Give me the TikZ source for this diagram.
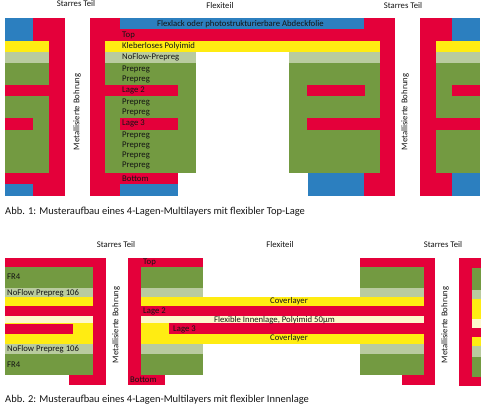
\documentclass[tikz,border=0pt]{standalone}
\usepackage{xcolor}
\usepackage{fontspec}
\setmainfont{Carlito}
\usetikzlibrary{positioning}
\definecolor{pcbred}{HTML}{E4003A}
\definecolor{pcbgreen}{HTML}{739A41}
\definecolor{pcbpale}{HTML}{B9CB9F}
\definecolor{pcbyellow}{HTML}{FFEC12}
\definecolor{pcbblue}{HTML}{2C7FBF}
\definecolor{pcbcream}{HTML}{FDF8CC}
\definecolor{pcbtext}{HTML}{141414}
\tikzstyle{copper} = [fill=pcbred]
\tikzstyle{prepreg} = [fill=pcbgreen]
\tikzstyle{noflow} = [fill=pcbpale]
\tikzstyle{polyimid} = [fill=pcbyellow]
\tikzstyle{flexcore} = [fill=pcbcream]
\tikzstyle{flexlack} = [fill=pcbblue]
\tikzstyle{layertext} = [anchor=west, inner sep=0pt, text=pcbtext, font=\fontsize{8.7}{10}\selectfont]
\tikzstyle{parttext} = [inner sep=0pt, text=pcbtext, font=\fontsize{8.7}{10}\selectfont]
\tikzstyle{viatext} = [parttext, rotate=90]
\tikzstyle{captext} = [anchor=west, inner sep=0pt, text=pcbtext, font=\fontsize{10.5}{12}\selectfont]

\begin{document}
\begin{tikzpicture}[x=1pt, y=-1pt]
\useasboundingbox (0,0) rectangle (490,409);
% Abb. 1, linkes starres Teil
\fill[prepreg] (5,63) rectangle (49,173);
\fill[noflow] (5,52) rectangle (49,63);
\fill[polyimid] (5,41) rectangle (49,52);
\fill[flexlack] (5,18) rectangle (33,41);
\fill[copper] (33,18) rectangle (65,41);
\fill[copper] (49,41) rectangle (65,173);
\fill[copper] (5,85) rectangle (49,96);
\fill[copper] (5,118) rectangle (33,130);
\fill[copper] (5,173) rectangle (65,184);
\fill[flexlack] (5,184) rectangle (33,196);
\fill[copper] (33,184) rectangle (65,196);
% Abb. 1, Mitte
\fill[prepreg] (105,63) rectangle (196,173);
\fill[prepreg] (289,63) rectangle (380,173);
\fill[noflow] (105,52) rectangle (196,63);
\fill[noflow] (289,52) rectangle (380,63);
\fill[polyimid] (105,41) rectangle (380,52);
\fill[flexlack] (120,18) rectangle (364,29);
\fill[copper] (90,18) rectangle (120,29);
\fill[copper] (364,18) rectangle (395,29);
\fill[copper] (90,29) rectangle (395,41);
\fill[copper] (90,41) rectangle (105,196);
\fill[copper] (380,41) rectangle (395,196);
\fill[copper] (105,85) rectangle (178,96);
\fill[copper] (307,85) rectangle (365,96);
\fill[copper] (120,118) rectangle (178,130);
\fill[copper] (307,118) rectangle (380,130);
\fill[copper] (105,173) rectangle (178,184);
\fill[copper] (105,184) rectangle (120,196);
\fill[flexlack] (120,184) rectangle (178,196);
\fill[flexlack] (308,173) rectangle (364,196);
\fill[copper] (364,173) rectangle (380,196);
% Abb. 1, rechtes starres Teil
\fill[prepreg] (436,63) rectangle (480,173);
\fill[noflow] (436,52) rectangle (480,63);
\fill[polyimid] (436,41) rectangle (480,52);
\fill[copper] (420,18) rectangle (452,41);
\fill[flexlack] (452,18) rectangle (480,41);
\fill[copper] (420,41) rectangle (436,196);
\fill[copper] (452,85) rectangle (480,96);
\fill[copper] (436,118) rectangle (480,130);
\fill[copper] (436,173) rectangle (452,196);
\fill[flexlack] (452,173) rectangle (480,196);
% Abb. 2, linkes starres Teil
\fill[copper] (5,258) rectangle (106,267);
\fill[copper] (93,267) rectangle (106,385);
\fill[prepreg] (5,267) rectangle (93,288);
\fill[noflow] (5,288) rectangle (93,297);
\fill[polyimid] (5,297) rectangle (93,306);
\fill[copper] (5,306) rectangle (93,316);
\fill[flexcore] (5,316) rectangle (93,323);
\fill[polyimid] (5,323) rectangle (93,344);
\fill[copper] (5,324) rectangle (73,334);
\fill[noflow] (5,344) rectangle (93,354);
\fill[prepreg] (5,354) rectangle (93,375);
\fill[copper] (69,375) rectangle (93,385);
% Abb. 2, Mitte
\fill[copper] (128,258) rectangle (203,267);
\fill[copper] (360,258) rectangle (435,267);
\fill[copper] (128,267) rectangle (141,385);
\fill[copper] (424,267) rectangle (435,385);
\fill[prepreg] (141,267) rectangle (203,288);
\fill[noflow] (141,288) rectangle (203,297);
\fill[prepreg] (360,267) rectangle (424,288);
\fill[noflow] (360,288) rectangle (424,297);
\fill[polyimid] (141,297) rectangle (424,306);
\fill[copper] (141,306) rectangle (424,316);
\fill[flexcore] (141,316) rectangle (424,323);
\fill[polyimid] (141,323) rectangle (169,334);
\fill[copper] (169,323) rectangle (424,334);
\fill[polyimid] (141,334) rectangle (424,344);
\fill[noflow] (141,344) rectangle (203,354);
\fill[prepreg] (141,354) rectangle (203,375);
\fill[noflow] (360,344) rectangle (424,354);
\fill[prepreg] (360,354) rectangle (424,375);
\fill[copper] (141,375) rectangle (165,385);
\fill[copper] (402,375) rectangle (424,385);
% Abb. 2, rechtes starres Teil
\fill[copper] (459,258) rectangle (481,268);
\fill[copper] (459,268) rectangle (472,386);
\fill[prepreg] (472,268) rectangle (481,290);
\fill[noflow] (472,290) rectangle (481,299);
\fill[polyimid] (472,299) rectangle (481,319);
\fill[flexcore] (472,319) rectangle (481,328);
\fill[copper] (472,328) rectangle (481,337);
\fill[polyimid] (472,337) rectangle (481,346);
\fill[noflow] (472,346) rectangle (481,357);
\fill[prepreg] (472,357) rectangle (481,377);
\fill[copper] (472,377) rectangle (481,386);
% Texte
\node[parttext] (starr1) at (76,4) {Starres Teil};
\node[parttext] (flex1) at (220,6) {Flexiteil};
\node[parttext] (starr2) at (403,6) {Starres Teil};
\node[viatext] (via1) at (77,112) {Metallisierte Bohrung};
\node[viatext] (via2) at (405,112) {Metallisierte Bohrung};
\node[layertext] (lack) at (157,24) {Flexlack oder photostrukturierbare Abdeckfolie};
\node[layertext] (top1) at (122,35) {Top};
\node[layertext] (kleber) at (122,46) {Kleberloses Polyimid};
\node[layertext] (noflow1) at (122,57.5) {NoFlow-Prepreg};
\node[layertext] (pp1) at (122,69) {Prepreg};
\node[layertext] (pp2) at (122,79) {Prepreg};
\node[layertext] (lage21) at (122,90) {Lage 2};
\node[layertext] (pp3) at (122,102) {Prepreg};
\node[layertext] (pp4) at (122,112) {Prepreg};
\node[layertext] (lage31) at (122,123.5) {Lage 3};
\node[layertext] (pp5) at (122,135) {Prepreg};
\node[layertext] (pp6) at (122,145) {Prepreg};
\node[layertext] (pp7) at (122,155) {Prepreg};
\node[layertext] (pp8) at (122,165) {Prepreg};
\node[layertext] (bottom1) at (122,179) {Bottom};
\node[captext] (cap1) at (5,212) {Abb. 1: Musteraufbau eines 4-Lagen-Multilayers mit flexibler Top-Lage};
\node[parttext] (starr3) at (116,245) {Starres Teil};
\node[parttext] (flex2) at (280,245) {Flexiteil};
\node[parttext] (starr4) at (443,245) {Starres Teil};
\node[viatext] (via3) at (116,325) {Metallisierte Bohrung};
\node[viatext] (via4) at (445,325) {Metallisierte Bohrung};
\node[layertext] (fr1) at (7,277) {FR4};
\node[layertext] (nf1) at (7,293) {NoFlow Prepreg 106};
\node[layertext] (nf2) at (7,349) {NoFlow Prepreg 106};
\node[layertext] (fr2) at (7,364.5) {FR4};
\node[layertext] (top2) at (143,262.5) {Top};
\node[layertext] (lage22) at (143,311) {Lage 2};
\node[layertext] (flexlage) at (214,320) {Flexible Innenlage, Polyimid 50µm};
\node[layertext] (lage32) at (173,329) {Lage 3};
\node[layertext] (cover1) at (270,301.5) {Coverlayer};
\node[layertext] (cover2) at (270,338.5) {Coverlayer};
\node[layertext] (bottom2) at (130,380) {Bottom};
\node[captext] (cap2) at (5,400) {Abb. 2: Musteraufbau eines 4-Lagen-Multilayers mit flexibler Innenlage};
\end{tikzpicture}
\end{document}
